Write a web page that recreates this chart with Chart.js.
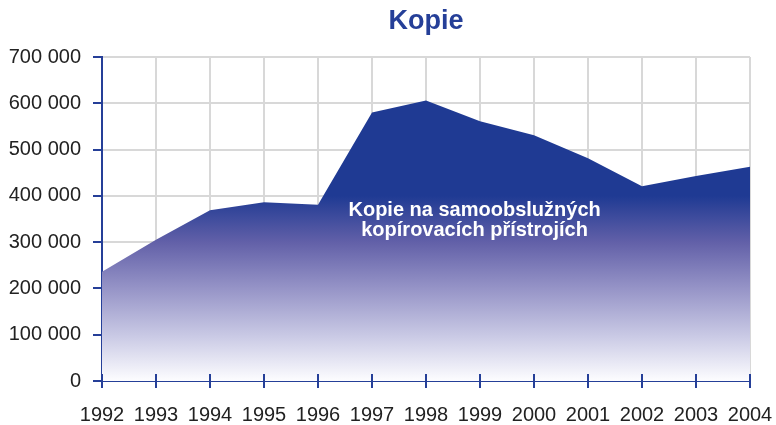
<!DOCTYPE html>
<html>
<head>
<meta charset="utf-8">
<script src="https://cdn.jsdelivr.net/npm/chart.js@4"></script>
<style>
  html, body { margin: 0; padding: 0; background: #fff; }
  #wrap { width: 776px; height: 425px; }
</style>
</head>
<body>
<div id="wrap"><canvas id="kopieChart" width="776" height="425"></canvas></div>
<script>
var years = ['1992', '1993', '1994', '1995', '1996', '1997', '1998', '1999', '2000', '2001', '2002', '2003', '2004'];
var copies = [236000, 305000, 369000, 386000, 381000, 580000, 606000, 561000, 531000, 481000, 421000, 443000, 463000];
var yTicks = [0, 100000, 200000, 300000, 400000, 500000, 600000, 700000];
var titleText = 'Kopie';
var noteLines = ['Kopie na samoobslužných', 'kopírovacích přístrojích'];
var noteAt = [6.9, 369000, 326000]; // x index, y of line 1, y of line 2

var blue = '#253f98';
var gridGray = '#d8d8d8';
var font = '"Liberation Sans", Arial, sans-serif';

function spaced(v) {
    return String(v).replace(/\B(?=(\d{3})+(?!\d))/g, ' ');
}

var overlay = {
    id: 'overlay',
    afterDatasetsDraw: function(chart) {
        var c = chart.ctx, x = chart.scales.x, y = chart.scales.y;
        c.save();
        c.fillStyle = '#fff';
        c.font = 'bold 20px ' + font;
        c.textAlign = 'center';
        c.textBaseline = 'middle';
        var px = x.getPixelForValue(noteAt[0]);
        c.fillText(noteLines[0], px, y.getPixelForValue(noteAt[1]));
        c.fillText(noteLines[1], px, y.getPixelForValue(noteAt[2]));
        c.restore();
    },
    afterDraw: function(chart) {
        var c = chart.ctx, a = chart.chartArea, x = chart.scales.x;
        c.save();
        // title over the plot area
        c.fillStyle = blue;
        c.font = 'bold 27px ' + font;
        c.textAlign = 'center';
        c.textBaseline = 'middle';
        c.fillText(titleText, (a.left + a.right) / 2, 22);
        // x tick marks also reach inside the plot
        c.strokeStyle = blue;
        c.lineWidth = 2;
        c.beginPath();
        for (var i = 0; i < years.length; i++) {
            var px = x.getPixelForTick(i);
            c.moveTo(px, a.bottom);
            c.lineTo(px, a.bottom - 7);
        }
        c.stroke();
        c.restore();
    }
};

document.addEventListener("DOMContentLoaded", function() {
    var ctx = document.getElementById('kopieChart').getContext('2d');
    var myChart = new Chart(ctx, {
        type: 'line',
        data: {
            labels: years,
            datasets: [{
                label: titleText,
                data: copies,
                fill: 'origin',
                borderWidth: 0,
                pointRadius: 0,
                tension: 0,
                backgroundColor: function(context) {
                    var chart = context.chart;
                    if (!chart.chartArea) return blue;
                    var y = chart.scales.y;
                    var g = chart.ctx.createLinearGradient(0, y.getPixelForValue(400000), 0, y.getPixelForValue(0));
                    g.addColorStop(0, 'rgb(31,58,147)');
                    g.addColorStop(0.25, 'rgb(98,96,168)');
                    g.addColorStop(0.5, 'rgb(150,148,199)');
                    g.addColorStop(0.75, 'rgb(200,200,228)');
                    g.addColorStop(1, 'rgb(253,253,255)');
                    return g;
                }
            }]
        },
        options: {
            responsive: false,
            animation: false,
            layout: { padding: { top: 57, right: 26, bottom: 0, left: 0 } },
            plugins: {
                legend: { display: false },
                title: { display: false },
                tooltip: { enabled: false }
            },
            scales: {
                x: {
                    z: 1,
                    offset: false,
                    afterFit: function(s) {
                        s.height = 44;
                        s.paddingLeft = 0;
                        s.paddingRight = 0;
                    },
                    grid: { color: gridGray, lineWidth: 2, tickColor: blue, tickLength: 7 },
                    border: { color: blue, width: 2 },
                    ticks: {
                        color: '#222',
                        font: { family: font, size: 20 },
                        padding: 15,
                        maxRotation: 0,
                        autoSkip: false
                    }
                },
                y: {
                    z: 1,
                    min: 0,
                    max: 700000,
                    afterBuildTicks: function(s) {
                        s.ticks = yTicks.map(function(v) { return { value: v }; });
                    },
                    afterFit: function(s) { s.width = 102; },
                    grid: { color: gridGray, lineWidth: 2, tickColor: blue, tickLength: 9 },
                    border: { color: blue, width: 2 },
                    ticks: {
                        color: '#222',
                        font: { family: font, size: 20 },
                        padding: 12,
                        callback: function(v) { return spaced(v); }
                    }
                }
            }
        },
        plugins: [overlay]
    });
});
</script>
</body>
</html>
